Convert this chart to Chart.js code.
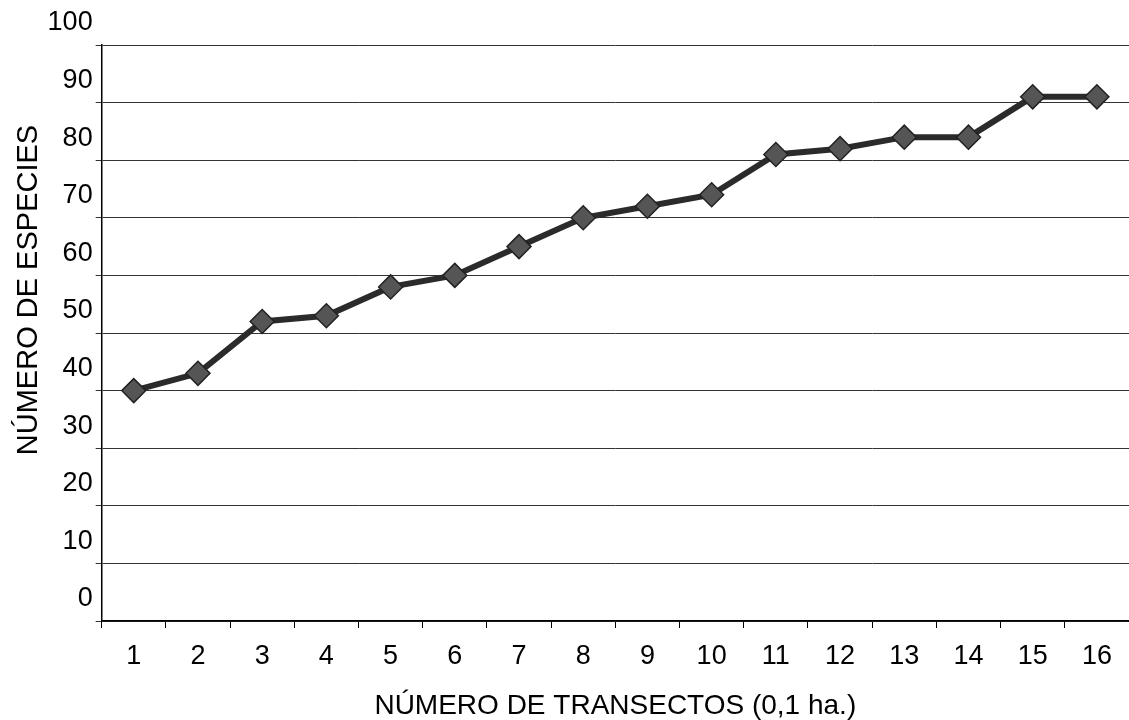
<!DOCTYPE html>
<html>
<head>
<meta charset="utf-8">
<script src="https://cdn.jsdelivr.net/npm/chart.js@4"></script>
<style>
  html, body { margin: 0; padding: 0; background: #fff; }
  #wrap { width: 1129px; height: 720px; }
</style>
</head>
<body>
<div id="wrap"><canvas id="c" width="1129" height="720"></canvas></div>
<script>
const transectos = ['1','2','3','4','5','6','7','8','9','10','11','12','13','14','15','16'];
const especies = [40, 43, 52, 53, 58, 60, 65, 70, 72, 74, 81, 82, 84, 84, 91, 91];
const xTitle = 'NÚMERO DE TRANSECTOS (0,1 ha.)';
const yTitle = 'NÚMERO DE ESPECIES';

const FONT = "'Liberation Sans', Arial, sans-serif";

// Draws the y-axis title (real canvas text) slightly above the axis centre, as in the original.
const yTitlePlugin = {
  id: 'yTitleText',
  afterDraw(chart) {
    const ctx = chart.ctx;
    ctx.save();
    ctx.translate(37, 290);
    ctx.rotate(-Math.PI / 2);
    ctx.font = '29px ' + FONT;
    ctx.fillStyle = '#000';
    ctx.textAlign = 'center';
    ctx.textBaseline = 'alphabetic';
    ctx.fillText(yTitle, 0, 0);
    ctx.restore();
  }
};

new Chart(document.getElementById('c'), {
  type: 'line',
  data: {
    labels: transectos,
    datasets: [{
      data: especies,
      borderColor: '#2b2b2b',
      borderWidth: 6,
      pointStyle: 'rectRot',
      pointRadius: 12,
      pointHoverRadius: 12,
      pointBackgroundColor: '#555555',
      pointBorderColor: '#222222',
      pointBorderWidth: 1.5,
      tension: 0
    }]
  },
  options: {
    responsive: false,
    animation: false,
    events: [],
    layout: { autoPadding: false, padding: { top: 45, right: -2, bottom: -3, left: 0 } },
    plugins: { legend: { display: false }, tooltip: { enabled: false } },
    scales: {
      x: {
        type: 'category',
        offset: true,
        grid: { display: true, drawOnChartArea: false, offset: true, tickLength: 7, color: '#000' },
        border: { display: true, color: '#000', width: 1.5 },
        ticks: { color: '#000', font: { family: FONT, size: 27 }, padding: 12 },
        title: { display: true, text: xTitle, color: '#000', font: { family: FONT, size: 28 }, padding: { top: 5, bottom: 0 } }
      },
      y: {
        min: 0, max: 100,
        ticks: { stepSize: 10, color: '#000', font: { family: FONT, size: 27 }, labelOffset: -22, padding: 3 },
        grid: { display: true, color: '#333', lineWidth: 1, tickLength: 6 },
        border: { display: true, color: '#000', width: 1.5 },
        title: { display: true, text: yTitle, color: 'rgba(0,0,0,0)', font: { family: FONT, size: 28 }, padding: { top: 5, bottom: 6 } }
      }
    }
  },
  plugins: [yTitlePlugin]
});
</script>
</body>
</html>
